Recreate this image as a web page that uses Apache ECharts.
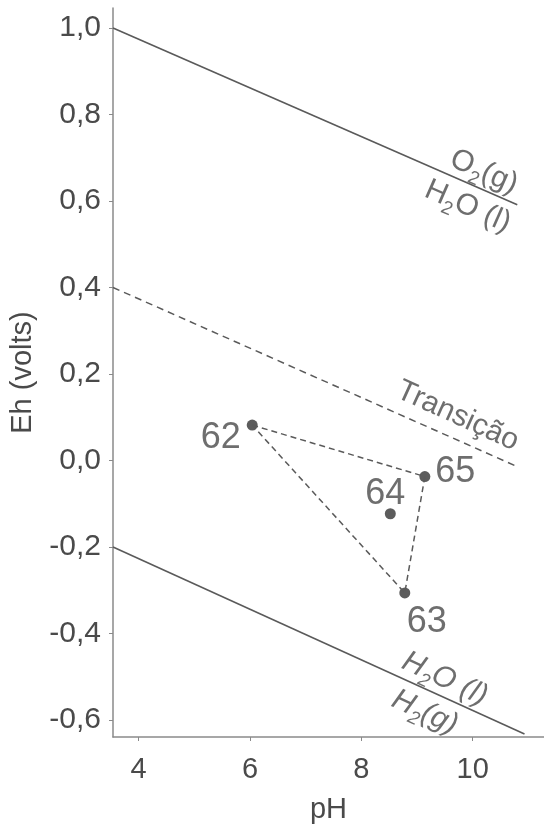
<!DOCTYPE html>
<html>
<head>
<meta charset="utf-8">
<title>Eh-pH</title>
<script src="https://cdn.jsdelivr.net/npm/echarts@6/dist/echarts.min.js"></script>
<style>
  html, body { margin: 0; padding: 0; background: #fff; overflow: hidden; }
  #chart { width: 544px; height: 829px; }
</style>
</head>
<body>
<div id="chart"></div>
<script>
// Sample points (pH, Eh in volts)
const sampleIds = ['62', '63', '64', '65'];
const samplePH = [6.04, 8.78, 8.52, 9.14];
const sampleEh = [0.082, -0.306, -0.123, -0.037];

// Dashed outline joining the samples
const outlineOrder = ['62', '65', '63', '62'];

// Water stability limits and transition line: [pH, Eh] endpoints
const upperLimit = [[3.54, 1.0], [10.8, 0.591]];
const lowerLimit = [[3.54, -0.2], [10.93, -0.632]];
const transition = [[3.54, 0.4], [10.8, -0.014]];

// Axis ticks
const phTicks = [4, 6, 8, 10];
const ehTicks = [-0.6, -0.4, -0.2, 0.0, 0.2, 0.4, 0.6, 0.8, 1.0];

const FONT = 'Liberation Sans, Arial, sans-serif';
const INK = '#4a4a4a';
const LINE = '#5a5a5a';
const AXIS = '#8a8a8a';

const fmt = v => (Math.abs(v) < 1e-9 ? 0 : v).toFixed(1).replace('.', ',');

// Rich-text styles for chemical formulas with subscripts
function formulaRich(italic) {
  const st = italic ? 'italic' : 'normal';
  return {
    n: { fontSize: 30, fontFamily: FONT, fontStyle: st, color: INK, lineHeight: 40, verticalAlign: 'middle' },
    s: { fontSize: 19, fontFamily: FONT, fontStyle: st, color: INK, lineHeight: 40, verticalAlign: 'bottom' }
  };
}

// Rotated annotations placed in data coordinates (rotation in degrees, clockwise negative)
const annotations = [
  { at: [9.73, 0.103], rotate: -24.5, text: '{n|Transição}', italic: false },
  { at: [10.2, 0.667], rotate: -23.7, text: '{n|O}{s|2}{n|(g)}', italic: false },
  { at: [9.91, 0.587], rotate: -23.7, text: '{n|H}{s|2}{n|O (l)}', italic: false },
  { at: [9.5, -0.505], rotate: -24.9, text: '{n|H}{s|2}{n|O (l)}', italic: true },
  { at: [9.14, -0.582], rotate: -24.9, text: '{n|H}{s|2}{n|(g)}', italic: true }
];

const labelPlacement = {
  '62': { position: 'left', distance: 6, offset: [0, 13] },
  '63': { position: 'bottom', distance: 0, offset: [22, 6] },
  '64': { position: 'top', distance: 0, offset: [-5, 4] },
  '65': { position: 'right', distance: 5, offset: [0, -4] }
};

const samples = sampleIds.map((id, i) => ({
  name: id,
  value: [samplePH[i], sampleEh[i]],
  label: Object.assign({ show: true, formatter: id }, labelPlacement[id])
}));

const outline = outlineOrder.map(id => {
  const i = sampleIds.indexOf(id);
  return [samplePH[i], sampleEh[i]];
});

const chart = echarts.init(document.getElementById('chart'), null, { renderer: 'canvas', width: 544, height: 829 });

const solidLine = data => ({
  type: 'line', data, symbol: 'none', silent: true,
  lineStyle: { color: LINE, width: 1.6 }
});

chart.setOption({
  animation: false,
  backgroundColor: '#fff',
  grid: { left: 109, width: 435, top: 8, height: 736 },
  xAxis: {
    type: 'value', min: 3.54, max: 11.28,
    name: 'pH', nameLocation: 'middle', nameGap: 58,
    nameTextStyle: { fontSize: 29, fontFamily: FONT, color: INK },
    axisLine: { show: true, onZero: false, lineStyle: { color: AXIS, width: 1.5 } },
    axisTick: { show: true, length: 4, customValues: phTicks, lineStyle: { color: AXIS } },
    axisLabel: { customValues: phTicks, margin: 18, fontSize: 29, fontFamily: FONT, color: INK },
    splitLine: { show: false }
  },
  yAxis: {
    type: 'value', min: -0.639, max: 1.046,
    name: 'Eh (volts)', nameLocation: 'middle', nameGap: 76, nameRotate: 90,
    nameTextStyle: { fontSize: 29, fontFamily: FONT, color: INK },
    axisLine: { show: true, onZero: false, lineStyle: { color: AXIS, width: 1.5 } },
    axisTick: { show: true, length: 4, customValues: ehTicks, lineStyle: { color: AXIS } },
    axisLabel: { customValues: ehTicks, margin: 12, fontSize: 30, fontFamily: FONT, color: INK, formatter: fmt },
    splitLine: { show: false }
  },
  series: [
    solidLine(upperLimit),
    solidLine(lowerLimit),
    {
      type: 'line', data: transition, symbol: 'none', silent: true,
      lineStyle: { color: LINE, width: 1.5, type: [7, 5] }
    },
    {
      type: 'line', data: outline, symbol: 'none', silent: true,
      lineStyle: { color: LINE, width: 1.5, type: [6, 4] }
    },
    {
      type: 'scatter', data: samples, symbol: 'circle', symbolSize: 11,
      itemStyle: { color: '#333' },
      label: { fontSize: 36, fontFamily: FONT, color: INK }
    },
    {
      type: 'scatter', symbolSize: 0, silent: true,
      data: annotations.map(a => ({
        value: a.at,
        label: {
          show: true, position: 'inside', rotate: a.rotate,
          formatter: a.text, rich: formulaRich(a.italic)
        }
      })),
      label: { fontSize: 30, fontFamily: FONT, color: INK }
    }
  ]
});
</script>
</body>
</html>
